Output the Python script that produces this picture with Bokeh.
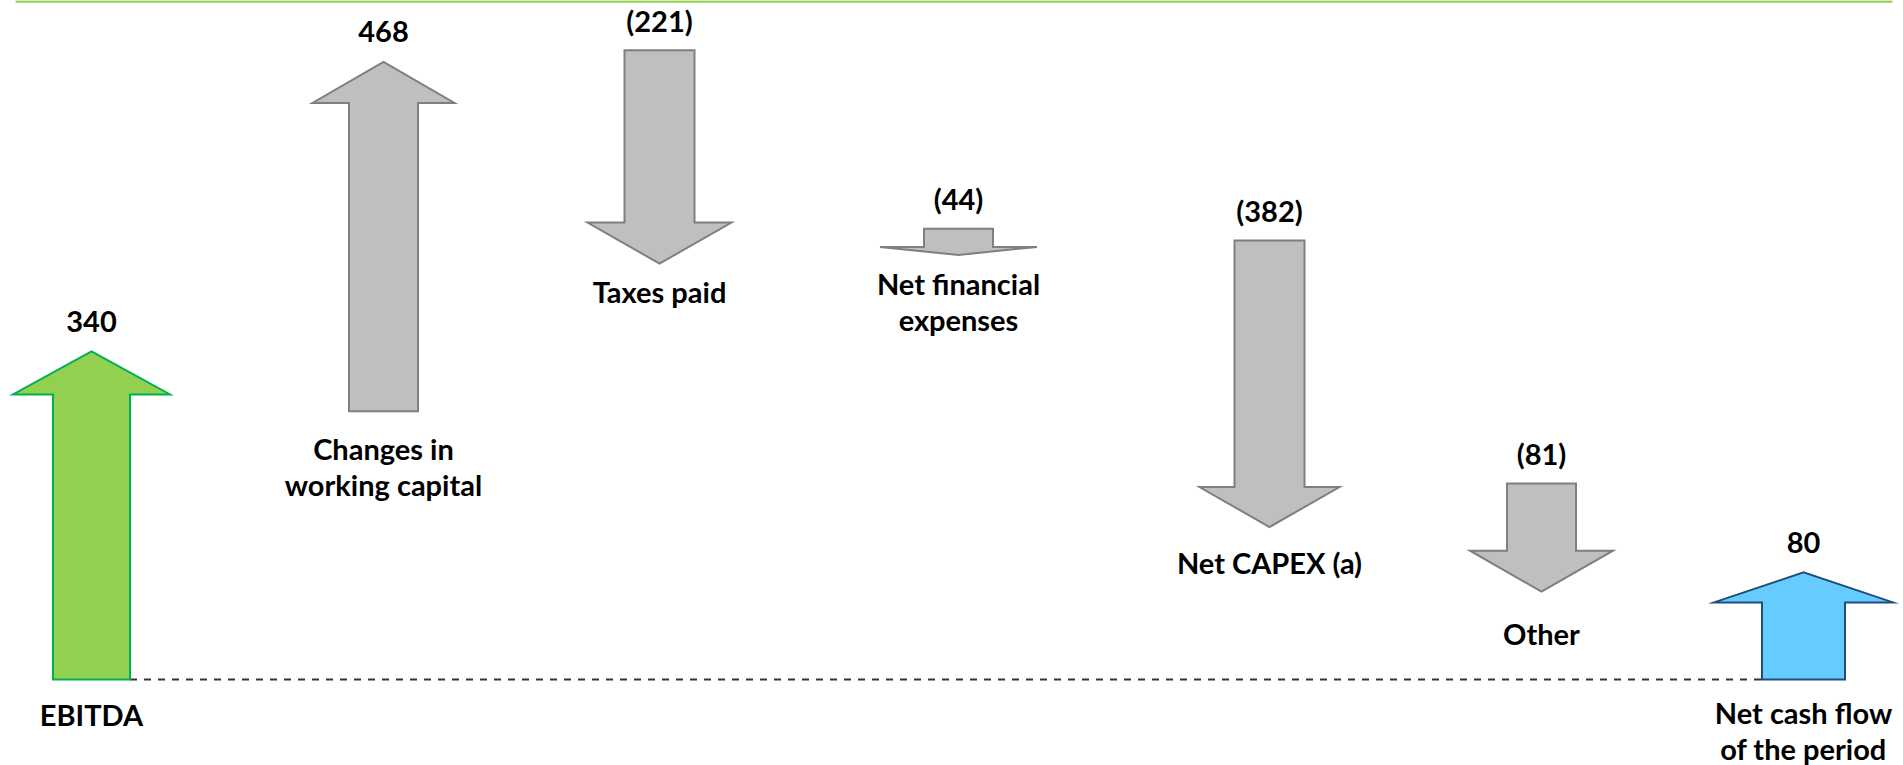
from bokeh.plotting import figure
from bokeh.models import Range1d, ColumnDataSource
from bokeh.core.properties import value
from bokeh.embed import file_html
from bokeh.resources import INLINE

# ---- data ----
categories = ["EBITDA", "Changes in\nworking capital", "Taxes paid",
              "Net financial\nexpenses", "Net CAPEX (a)", "Other",
              "Net cash flow\nof the period"]
values = [340, 468, -221, -44, -382, -81, 80]
value_labels = ["340", "468", "(221)", "(44)", "(382)", "(81)", "80"]
# level of the arrow tail and of its tip, in the diagram's own (stylised) scale
arrow_from = [0, 278, 652, 467, 455, 203, 0]
arrow_to = [340, 640, 431, 440, 158, 91, 111]

# ---- layout / style ----
x_centers = [91, 383, 659, 958, 1269, 1541, 1803]
shaft_w = [77, 69, 70, 69, 70, 69, 83]
head_w = [157, 142, 144, 157, 140, 143, 179]
head_len_px = [43, 41, 41, 8, 40, 41, 30]
name_gap = [35, 37, 28, 29, 35, 42, 33]
fill_colors = ["#92D050", "#BFBFBF", "#BFBFBF", "#BFBFBF", "#BFBFBF", "#BFBFBF", "#66CCFF"]
line_colors = ["#00B050", "#7F7F7F", "#7F7F7F", "#7F7F7F", "#7F7F7F", "#7F7F7F", "#1F4E79"]

W, H = 1903, 765
PX_PER_UNIT = 0.965
BASE_PX = 679
y_start = (BASE_PX - H) / PX_PER_UNIT
y_end = BASE_PX / PX_PER_UNIT

p = figure(width=W, height=H, x_range=Range1d(0, W), y_range=Range1d(y_start, y_end),
           output_backend="svg", toolbar_location=None, min_border=0,
           x_axis_location=None, y_axis_location=None, outline_line_color=None)
p.grid.visible = False
p.background_fill_color = "white"
p.border_fill_color = "white"

# top green rule
p.segment(x0=[15], y0=[y_end - 1 / PX_PER_UNIT], x1=[1892], y1=[y_end - 1 / PX_PER_UNIT],
          line_color="#92D050", line_width=2.5)

# dashed baseline between first and last arrow
p.segment(x0=[x_centers[0] + shaft_w[0] / 2], y0=[0],
          x1=[x_centers[-1] - shaft_w[-1] / 2], y1=[0],
          line_color="#333333", line_width=2, line_dash="7 7")

# arrows
xs, ys = [], []
for xc, a, b, sw, hw, hl in zip(x_centers, arrow_from, arrow_to, shaft_w, head_w, head_len_px):
    d = 1 if b > a else -1
    hu = hl / PX_PER_UNIT
    j = b - d * hu
    xs.append([xc - sw / 2, xc - sw / 2, xc - hw / 2, xc, xc + hw / 2, xc + sw / 2, xc + sw / 2])
    ys.append([a, j, j, b, j, j, a])
src = ColumnDataSource(dict(xs=xs, ys=ys, fill=fill_colors, line=line_colors))
p.patches("xs", "ys", source=src, fill_color="fill", line_color="line",
          line_width=2, line_join="miter")

FONT = value("Lato")
FS = "29px"

# value labels above the upper end of each arrow
vx, vy = [], []
for xc, a, b in zip(x_centers, arrow_from, arrow_to):
    vx.append(xc)
    vy.append(max(a, b))
p.text(x=vx, y=vy, text=value_labels, y_offset=-30, text_align="center",
       text_baseline="middle", text_font=FONT, text_font_style="bold",
       text_font_size=FS, text_color="black")

# category names below the lower end of each arrow
nx, ny, nt, noff = [], [], [], []
for xc, a, b, name, g in zip(x_centers, arrow_from, arrow_to, categories, name_gap):
    for i, line in enumerate(name.split("\n")):
        nx.append(xc)
        ny.append(min(a, b))
        nt.append(line)
        noff.append(g + 36 * i)
nsrc = ColumnDataSource(dict(x=nx, y=ny, t=nt, off=noff))
p.text(x="x", y="y", text="t", y_offset="off", source=nsrc, text_align="center",
       text_baseline="middle", text_font=FONT, text_font_style="bold",
       text_font_size=FS, text_color="black")

open("out.html", "w").write(file_html(p, INLINE))
